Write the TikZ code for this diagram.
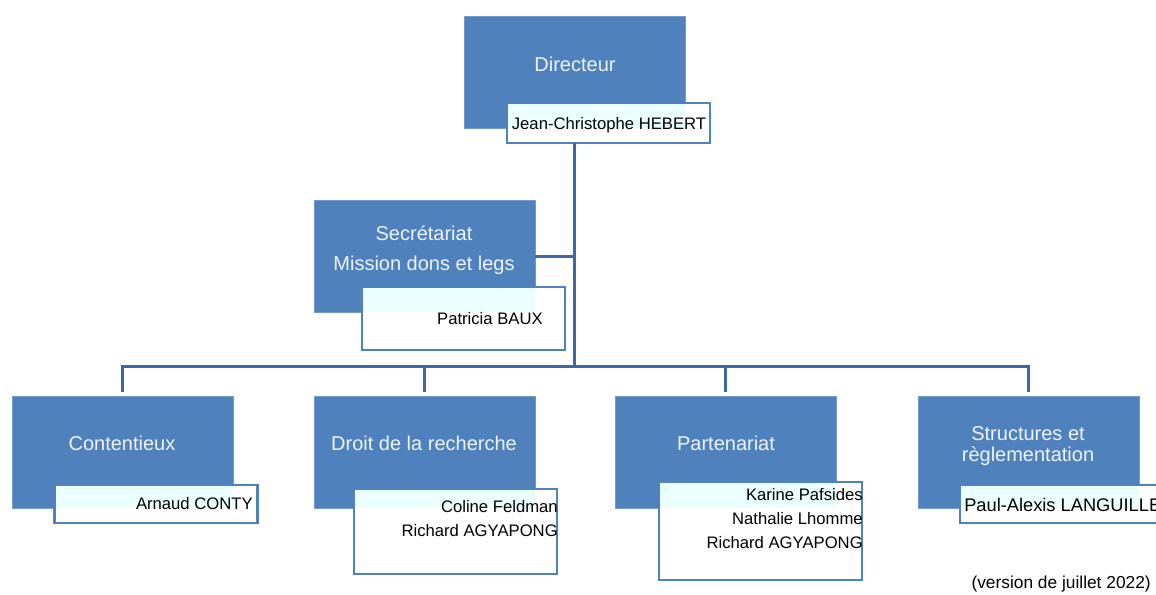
\documentclass[tikz,border=0pt]{standalone}
\usepackage{fontspec}
\setmainfont{Liberation Sans}
\usepackage{tikz}
\usetikzlibrary{positioning}

\definecolor{boxblue}{RGB}{79,129,189}
\definecolor{linkblue}{RGB}{63,104,158}
\definecolor{titlewhite}{RGB}{238,243,250}
\definecolor{palecyan}{RGB}{236,255,255}

\begin{document}
\begin{tikzpicture}[x=0.75pt, y=-0.75pt,
    service/.style={rectangle, fill=boxblue, draw=boxblue!80!white, line width=0.4pt,
        inner sep=0pt, outer sep=0pt, minimum width=165.75pt, minimum height=84pt},
    title/.style={text=titlewhite, align=center, inner sep=0pt,
        font=\fontsize{15}{#1}\selectfont},
    title/.default=17pt,
    namebox/.style={rectangle, draw=boxblue, line width=1.8pt, fill=white,
        inner sep=0pt, outer sep=0pt, minimum width=152.25pt,
        path picture={\fill[palecyan] (path picture bounding box.north west)
            rectangle (#1.south east);}},
    names/.style={text=black, align=right, inner sep=0pt,
        font=\fontsize{12.5}{18}\selectfont},
    link/.style={draw=linkblue, line width=2.25pt}]

    \useasboundingbox (0,0) rectangle (1156,594);

    % directeur
    \node[service]                          (dir)   at (574.5,72)  {};
    \node[title]                            (dir_t) at (575,64)    {Directeur};
    \node[namebox=dir, minimum height=30pt] (dir_n) at (608.5,123) {};
    \node[names]                            (dir_p) at (609,125)   {Jean-Christophe HEBERT};

    % secretariat
    \node[service]                             (sec)   at (424.5,256)   {};
    \node[title=22.5pt]                        (sec_t) at (424,250)     {Secrétariat\\Mission dons et legs};
    \node[namebox=sec, minimum height=47.25pt] (sec_n) at (463.5,318.5) {};
    \node[names, anchor=east]                  (sec_p) at (543,319)     {Patricia BAUX};

    % services
    \node[service] (cont)   at (122.5,452)  {};
    \node[service] (droit)  at (424.5,452)  {};
    \node[service] (part)   at (725.5,452)  {};
    \node[service] (struct) at (1028.5,452) {};

    \node[title]         (cont_t)   at (122,443)  {Contentieux};
    \node[title]         (droit_t)  at (424,443)  {Droit de la recherche};
    \node[title]         (part_t)   at (726,443)  {Partenariat};
    \node[title=15.75pt] (struct_t) at (1028,446) {Structures et\\règlementation};

    \node[namebox=cont,   minimum height=28.5pt]  (cont_n)   at (156,504)    {};
    \node[namebox=droit,  minimum height=63.75pt] (droit_n)  at (455.5,531.5) {};
    \node[namebox=part,   minimum height=73.5pt]  (part_n)   at (760.5,531)  {};
    \node[namebox=struct, minimum height=28.5pt]  (struct_n) at (1061.5,504) {};

    \node[names, anchor=east]       (cont_p)   at (253,504)   {Arnaud CONTY};
    \node[names, anchor=north east] (droit_p)  at (558,500)   {Coline Feldman\\Richard AGYAPONG};
    \node[names, anchor=north east] (part_p)   at (863,488)   {Karine Pafsides\\Nathalie Lhomme\\Richard AGYAPONG};
    \node[names, anchor=west, font=\fontsize{13.7}{16}\selectfont]
                                    (struct_p) at (964,505)   {Paul-Alexis LANGUILLE};

    \node[anchor=south east, inner sep=0pt, font=\fontsize{13}{15}\selectfont]
        (version) at (1151,592) {(version de juillet 2022)};

    % liaisons
    \coordinate (bus) at (574.5,366);

    \path[link]
    (dir.south |- dir_n.south) edge (bus)
    (sec.east)  edge (sec.east -| bus)
    (droit.north) ++(0,-4) edge (droit.north |- bus)
    (part.north)  ++(0,-4) edge (part.north |- bus)
    ;
    \draw[link] ([yshift=3pt]cont.north) |- (bus) -| ([yshift=3pt]struct.north);
\end{tikzpicture}
\end{document}
